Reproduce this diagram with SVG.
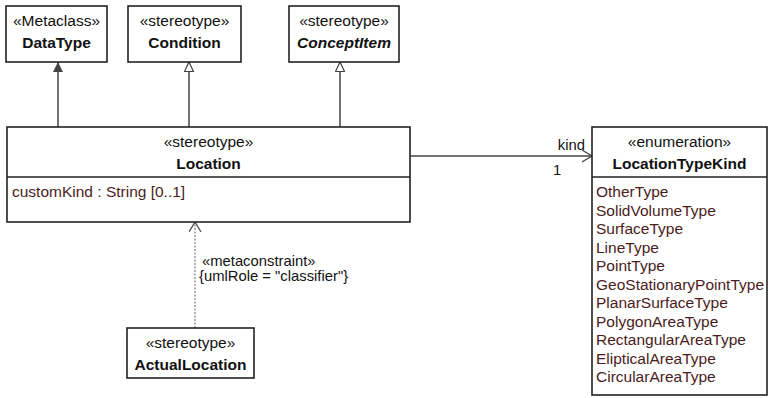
<svg xmlns="http://www.w3.org/2000/svg" width="768" height="398" viewBox="0 0 768 398">
<defs>
<style>
.box{fill:#fff;stroke:#222;stroke-width:1.6}
.t{font-family:"Liberation Sans",Arial,sans-serif;font-size:15.5px;fill:#111}
.c{text-anchor:middle}
.b{font-weight:bold}
.attr{font-family:"Liberation Sans",Arial,sans-serif;font-size:15.5px;fill:#4a1c1c}
.lbl{font-family:"Liberation Sans",Arial,sans-serif;font-size:14.8px;fill:#111}
.ln{fill:none;stroke:#444;stroke-width:1.5}
.dash{fill:none;stroke:#777;stroke-width:1.2;stroke-dasharray:2,1.5}
</style>
<marker id="filled" markerWidth="12" markerHeight="10" refX="10" refY="5" orient="auto" markerUnits="userSpaceOnUse">
<path d="M0,0 L10,5 L0,10 Z" fill="#444"/>
</marker>
<marker id="hollow" markerWidth="12" markerHeight="12" refX="10" refY="5" orient="auto" markerUnits="userSpaceOnUse">
<path d="M0.5,0.5 L10,5 L0.5,9.5 Z" fill="#fff" stroke="#444" stroke-width="1.2"/>
</marker>
<marker id="open" markerWidth="12" markerHeight="14" refX="10" refY="6" orient="auto" markerUnits="userSpaceOnUse">
<path d="M0,0 L10,6 L0,12" fill="none" stroke="#444" stroke-width="1.2"/>
</marker>
</defs>
<rect width="768" height="398" fill="#fff"/>
<g id="connectors">
<line class="ln" x1="58" y1="127" x2="58" y2="62" marker-end="url(#filled)"/>
<line class="ln" x1="189" y1="127" x2="189" y2="62" marker-end="url(#hollow)"/>
<line class="ln" x1="340" y1="127" x2="340" y2="62" marker-end="url(#hollow)"/>
<line class="ln" x1="410" y1="156" x2="592" y2="156" marker-end="url(#open)"/>
<text class="lbl" x="585" y="150" text-anchor="end">kind</text>
<text class="lbl" x="553" y="175">1</text>
<line class="dash" x1="195" y1="328" x2="195" y2="222" marker-end="url(#open)"/>
<text class="lbl" x="202" y="266">«metaconstraint»</text>
<text class="lbl" x="199" y="281">{umlRole = "classifier"}</text>
</g>
<g id="DataType">
<rect class="box" x="6" y="6" width="101" height="56"/>
<text class="t c" x="56.5" y="26">«Metaclass»</text>
<text class="t c b" x="56.5" y="48">DataType</text>
</g>
<g id="Condition">
<rect class="box" x="128" y="6" width="113" height="56"/>
<text class="t c" x="184.5" y="26">«stereotype»</text>
<text class="t c b" x="184.5" y="48">Condition</text>
</g>
<g id="ConceptItem">
<rect class="box" x="289" y="6" width="110" height="56"/>
<text class="t c" x="344" y="26">«stereotype»</text>
<text class="t c b" x="344" y="48" font-style="italic">ConceptItem</text>
</g>
<g id="Location">
<rect class="box" x="7" y="127" width="403" height="95"/>
<line class="box" x1="7" y1="177" x2="410" y2="177"/>
<text class="t c" x="208.5" y="147">«stereotype»</text>
<text class="t c b" x="208.5" y="169">Location</text>
<text class="attr" x="12" y="197">customKind : String [0..1]</text>
</g>
<g id="ActualLocation">
<rect class="box" x="127" y="328" width="127" height="50"/>
<text class="t c" x="190.5" y="348">«stereotype»</text>
<text class="t c b" x="190.5" y="370">ActualLocation</text>
</g>
<g id="LocationTypeKind">
<rect class="box" x="592" y="127" width="175" height="268"/>
<line class="box" x1="592" y1="177" x2="767" y2="177"/>
<text class="t c" x="679.5" y="147">«enumeration»</text>
<text class="t c b" x="679.5" y="169">LocationTypeKind</text>
<text class="attr" x="596" y="197">OtherType</text>
<text class="attr" x="596" y="215.5">SolidVolumeType</text>
<text class="attr" x="596" y="234">SurfaceType</text>
<text class="attr" x="596" y="252.5">LineType</text>
<text class="attr" x="596" y="271">PointType</text>
<text class="attr" x="596" y="289.5">GeoStationaryPointType</text>
<text class="attr" x="596" y="308">PlanarSurfaceType</text>
<text class="attr" x="596" y="326.5">PolygonAreaType</text>
<text class="attr" x="596" y="345">RectangularAreaType</text>
<text class="attr" x="596" y="363.5">ElipticalAreaType</text>
<text class="attr" x="596" y="382">CircularAreaType</text>
</g>
</svg>
